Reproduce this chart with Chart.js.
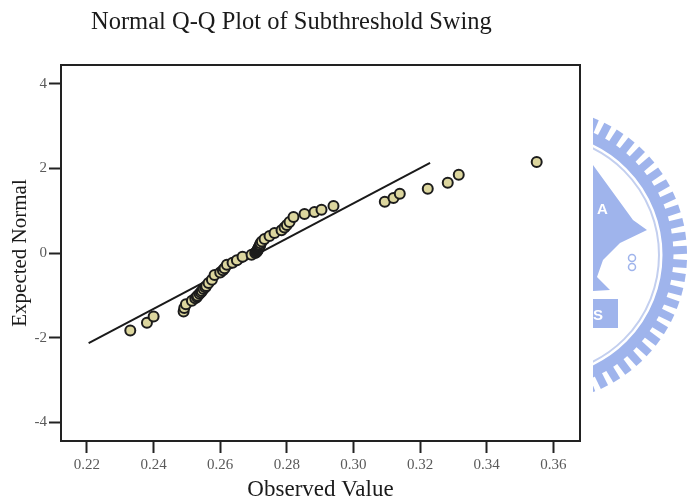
<!DOCTYPE html>
<html>
<head>
<meta charset="utf-8">
<title>Normal Q-Q Plot of Subthreshold Swing</title>
<script src="https://cdn.jsdelivr.net/npm/chart.js@4"></script>
<style>
  html, body { margin: 0; padding: 0; background: #fff; }
  #wrap { position: relative; width: 688px; height: 502px; filter: blur(0.45px); }
  #plotTitle { position: absolute; left: 91px; top: 7px; font: 24.5px "Liberation Serif", serif; color: #1a1a1a; white-space: nowrap; }
</style>
</head>
<body>
<div id="wrap">
  <div id="plotTitle">Normal Q-Q Plot of Subthreshold Swing</div>
  <canvas id="qqChart" width="688" height="502"></canvas>
</div>
<script>
// values
const observed = [
  0.233, 0.238, 0.240, 0.249, 0.2492, 0.2497, 0.2515, 0.2525, 0.2530, 0.2532, 0.2538,
  0.2542, 0.2545, 0.2550, 0.2555, 0.2558, 0.2565, 0.2575, 0.2583, 0.2600, 0.2608, 0.2613, 0.2620,
  0.2637, 0.2650, 0.2667, 0.2694, 0.2705, 0.2708, 0.2710, 0.2712, 0.2713, 0.2714, 0.2715, 0.2716, 0.2717, 0.2718,
  0.2719, 0.2720, 0.2721, 0.2725, 0.2733, 0.2748, 0.2763, 0.2784, 0.2793, 0.2800, 0.2808,
  0.2820, 0.2853, 0.2883, 0.2904, 0.2940, 0.3094, 0.3120, 0.3139, 0.3223, 0.3283,
  0.3316, 0.3550
];
const expected = [
  -1.83, -1.65, -1.50, -1.38, -1.30, -1.21, -1.13, -1.07, -1.04, -1.01, -0.96,
  -0.93, -0.90, -0.85, -0.81, -0.78, -0.71, -0.63, -0.52, -0.46, -0.41, -0.36, -0.28,
  -0.23, -0.17, -0.09, -0.04, 0.00, 0.02, 0.04, 0.06, 0.08, 0.10, 0.11, 0.13, 0.15, 0.16,
  0.18, 0.19, 0.23, 0.27, 0.33, 0.40, 0.47, 0.54, 0.60, 0.66, 0.73,
  0.85, 0.92, 0.97, 1.02, 1.11, 1.21, 1.30, 1.40, 1.52, 1.66,
  1.85, 2.15
];
const lineX = [0.2205, 0.323];
const lineY = [-2.13, 2.13];
const xTicks = [0.22, 0.24, 0.26, 0.28, 0.30, 0.32, 0.34, 0.36];
const yTicks = [-4, -2, 0, 2, 4];

const ink = '#222';
const seal = '#9fb4ec';

// box around the plot
const frame = {
  id: 'frame',
  afterDatasetsDraw(chart) {
    const a = chart.chartArea, c = chart.ctx;
    c.save();
    c.strokeStyle = ink;
    c.lineWidth = 2;
    c.strokeRect(a.left, a.top, a.right - a.left, a.bottom - a.top);
    c.restore();
  }
};

// university seal showing behind the page on the right edge
const watermark = {
  id: 'watermark',
  beforeDraw(chart) {
    const c = chart.ctx, cx = 540, cy = 255;
    c.save();
    c.beginPath();
    c.rect(593, 0, 95, 502);
    c.clip();
    c.strokeStyle = seal;
    c.lineWidth = 11;
    c.beginPath();
    c.arc(cx, cy, 128, 0, Math.PI * 2);
    c.stroke();
    c.lineWidth = 8;
    for (let deg = -90; deg <= 90; deg += 5.5) {
      const t = deg * Math.PI / 180;
      c.beginPath();
      c.moveTo(cx + 132 * Math.cos(t), cy + 132 * Math.sin(t));
      c.lineTo(cx + 147 * Math.cos(t), cy + 147 * Math.sin(t));
      c.stroke();
    }
    c.strokeStyle = '#c3cfef';
    c.lineWidth = 2;
    c.beginPath();
    c.arc(cx, cy, 119, 0, Math.PI * 2);
    c.stroke();
    c.fillStyle = seal;
    c.beginPath();
    c.moveTo(593, 165);
    c.lineTo(633, 220);
    c.lineTo(647, 230);
    c.lineTo(620, 243);
    c.lineTo(603, 260);
    c.lineTo(597, 277);
    c.lineTo(610, 290);
    c.lineTo(593, 291);
    c.closePath();
    c.fill();
    c.fillRect(593, 299, 25, 29);
    c.strokeStyle = seal;
    c.lineWidth = 1.5;
    c.beginPath();
    c.arc(632, 258, 3.5, 0, Math.PI * 2);
    c.moveTo(635.5, 267);
    c.arc(632, 267, 3.5, 0, Math.PI * 2);
    c.stroke();
    c.fillStyle = '#fff';
    c.font = 'bold 15px "Liberation Sans", sans-serif';
    c.fillText('A', 597, 214);
    c.fillText('S', 593, 320);
    c.restore();
  }
};

new Chart(document.getElementById('qqChart').getContext('2d'), {
  type: 'scatter',
  data: {
    datasets: [
      {
        data: observed.map((v, i) => ({ x: v, y: expected[i] })),
        backgroundColor: '#dcd69e',
        borderColor: '#1c1c1c',
        borderWidth: 2,
        pointRadius: 5,
        order: 1
      },
      {
        type: 'line',
        data: lineX.map((v, i) => ({ x: v, y: lineY[i] })),
        borderColor: '#1a1a1a',
        borderWidth: 2,
        pointRadius: 0,
        order: 2
      }
    ]
  },
  options: {
    responsive: false,
    animation: false,
    layout: { padding: { top: 65, right: 108, left: 0, bottom: 0 } },
    plugins: { legend: { display: false }, tooltip: { enabled: false } },
    scales: {
      x: {
        type: 'linear',
        min: 0.2122,
        max: 0.368,
        afterFit(scale) { scale.height = 61; },
        afterBuildTicks(scale) { scale.ticks = xTicks.map(v => ({ value: v })); },
        border: { display: true, color: ink, width: 2 },
        grid: { drawOnChartArea: false, tickLength: 12, tickWidth: 2, tickColor: ink },
        ticks: {
          color: '#5a5a5a',
          padding: 3,
          maxRotation: 0,
          autoSkip: false,
          font: { family: '"Liberation Serif", serif', size: 15 },
          callback: v => v.toFixed(2)
        },
        title: {
          display: true,
          text: 'Observed Value',
          color: '#1a1a1a',
          padding: { top: 0, bottom: -2 },
          font: { family: '"Liberation Serif", serif', size: 23 }
        }
      },
      y: {
        type: 'linear',
        min: -4.44,
        max: 4.44,
        afterFit(scale) { scale.width = 61; },
        afterBuildTicks(scale) { scale.ticks = yTicks.map(v => ({ value: v })); },
        border: { display: true, color: ink, width: 2 },
        grid: { drawOnChartArea: false, tickLength: 12, tickWidth: 2, tickColor: ink },
        ticks: {
          color: '#5a5a5a',
          padding: 2,
          autoSkip: false,
          font: { family: '"Liberation Serif", serif', size: 15 },
          callback: v => String(v)
        },
        title: {
          display: true,
          text: 'Expected Normal',
          color: '#1a1a1a',
          padding: { top: 8, bottom: 0 },
          font: { family: '"Liberation Serif", serif', size: 21 }
        }
      }
    }
  },
  plugins: [watermark, frame]
});
</script>
</body>
</html>
